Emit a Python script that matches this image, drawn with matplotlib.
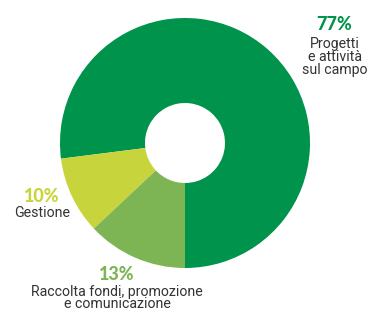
import matplotlib
matplotlib.use("Agg")
import matplotlib.pyplot as plt

# budget shares
labels = ["Progetti\ne attività\nsul campo", "Gestione", "Raccolta fondi, promozione\ne comunicazione"]
values = [77, 10, 13]
colors = ["#00934b", "#c8d43c", "#7db554"]

W, H = 367, 311
fig = plt.figure(figsize=(W / 100, H / 100), dpi=100)

# donut centre ~ (185,143) px, outer radius ~125 px
cx, cy, R = 185, 143, 125
ax = fig.add_axes([(cx - R) / W, (H - cy - R) / H, 2 * R / W, 2 * R / H])
ax.pie(values, colors=colors, startangle=270, counterclock=True,
       wedgeprops=dict(width=1 - 40 / 125, linewidth=0))
ax.set_aspect("equal")
ax.set_xlim(-1, 1)
ax.set_ylim(-1, 1)
ax.axis("off")

def px(x, y):
    return x / W, 1 - y / H

pct_font = dict(family="Lato", weight="black", fontsize=13)
lab_font = dict(family="Roboto", fontsize=10.2, color="#333333", linespacing=0.88)

# 77%
fig.text(*px(334, 24), f"{values[0]}%", color=colors[0], ha="center", va="center", **pct_font)
fig.text(*px(335, 57), labels[0], ha="center", va="center", **lab_font)
# 10%
fig.text(*px(42, 197), f"{values[1]}%", color=colors[1], ha="center", va="center", **pct_font)
fig.text(*px(42, 213), labels[1], ha="center", va="center", **lab_font)
# 13%
fig.text(*px(117, 275), f"{values[2]}%", color=colors[2], ha="center", va="center", **pct_font)
fig.text(*px(117, 298), labels[2], ha="center", va="center", **lab_font)

fig.savefig("out.png", dpi=100)
